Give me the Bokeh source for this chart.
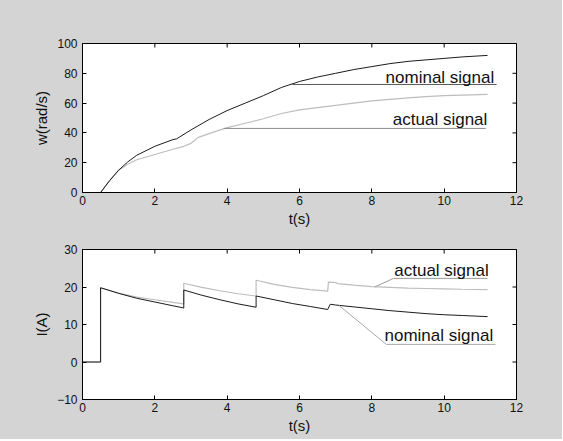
import math
from bokeh.plotting import figure
from bokeh.models import FixedTicker, Range1d
from bokeh.layouts import column
from bokeh.core.properties import value
from bokeh.embed import file_html
from bokeh.resources import INLINE

# ---------------- data ----------------
x_ticks = [0, 2, 4, 6, 8, 10, 12]
w_ticks = [0, 20, 40, 60, 80, 100]
i_ticks = [-10, 0, 10, 20, 30]

# speed w(rad/s)
w_t_nom = [0, 0.5, 0.75, 1.0, 1.25, 1.5, 2.0, 2.5, 2.6, 3.0, 3.5, 4.0, 4.5, 5.0, 5.5,
           6.0, 6.5, 7.0, 7.5, 8.0, 8.5, 9.0, 9.5, 10.0, 10.5, 11.2]
w_nom = [0, 0, 8, 15, 20.5, 25, 31, 35.5, 36, 42, 49, 55, 60, 65, 70.5,
         74.5, 77.5, 80, 82.5, 84.5, 86.5, 88, 89, 90, 91, 92]
w_t_act = [0, 0.5, 0.75, 1.0, 1.25, 1.5, 2.0, 2.5, 2.8, 3.0, 3.2, 3.5, 4.0, 4.5, 5.0,
           5.5, 6.0, 6.5, 7.0, 7.5, 8.0, 8.5, 9.0, 9.5, 10.0, 10.5, 11.2]
w_act = [0, 0, 8, 15, 19, 22, 25.5, 29, 31, 33, 37, 39.5, 43.5, 46.5, 49.5,
         53, 55.5, 57, 58.5, 60, 61.5, 62.5, 63.5, 64.3, 65, 65.4, 65.8]

# current I(A)
i_t_nom = [0, 0.5, 0.5, 1.0, 1.5, 2.0, 2.5, 2.8, 2.8, 3.3, 3.8, 4.3, 4.8, 4.8, 5.3,
           5.8, 6.3, 6.78, 6.85, 7.0, 7.5, 8.0, 8.5, 9.0, 9.5, 10.0, 10.5, 11.2]
i_nom = [0, 0, 19.8, 18.3, 17.0, 16.0, 15.0, 14.4, 19.2, 17.8, 16.6, 15.5, 14.6, 17.6, 16.6,
         15.6, 14.8, 14.0, 15.4, 15.2, 14.7, 14.2, 13.7, 13.3, 12.9, 12.6, 12.4, 12.1]
i_t_act = [0, 0.5, 0.5, 1.0, 1.5, 2.0, 2.5, 2.8, 2.8, 3.3, 3.8, 4.3, 4.8, 4.8, 5.3,
           5.8, 6.3, 6.78, 6.8, 7.0, 7.05, 7.5, 8.0, 8.5, 9.0, 9.5, 10.0, 10.5, 11.2]
i_act = [0, 0, 19.8, 18.4, 17.3, 16.6, 15.9, 15.5, 21.0, 19.9, 19.0, 18.2, 17.6, 21.8, 20.7,
         19.9, 19.3, 18.9, 21.3, 21.2, 20.9, 20.5, 20.1, 19.9, 19.7, 19.6, 19.5, 19.4, 19.3]

# annotations (data coordinates)
w_nom_label = dict(text="nominal signal", x=8.38, y=77.5, line_x=[5.8, 11.45], line_y=[72.5, 72.5])
w_act_label = dict(text="actual signal", x=8.58, y=49.0, line_x=[3.9, 11.15], line_y=[43, 43])
i_act_label = dict(text="actual signal", x=8.62, y=24.3, line_x=[8.08, 8.6, 11.2], line_y=[20.0, 22.3, 22.3])
i_nom_label = dict(text="nominal signal", x=8.35, y=7.0, line_x=[7.09, 8.4, 11.42], line_y=[15.1, 4.7, 4.7])

BG = "#d4d4d4"
FONT = "Liberation Sans"
NOM_COLOR = "#1c1c1c"
ACT_COLOR = "#bdbdbd"


def style_axes(p, yticks, ylabel):
    p.xaxis.ticker = FixedTicker(ticks=x_ticks)
    p.yaxis.ticker = FixedTicker(ticks=yticks)
    for ax in p.xaxis + p.yaxis:
        ax.major_tick_in = 4
        ax.major_tick_out = 0
        ax.minor_tick_line_color = None
        ax.axis_line_color = "black"
        ax.major_tick_line_color = "black"
        ax.major_label_text_font = FONT
        ax.major_label_text_font_size = "12px"
        ax.major_label_text_color = "#111111"
        ax.axis_label_text_font = FONT
        ax.axis_label_text_font_size = "15px"
        ax.axis_label_text_font_style = "normal"
        ax.axis_label_text_color = "#111111"
    p.xaxis.major_label_standoff = 3
    p.yaxis.major_label_standoff = 5
    p.xaxis.axis_label = "t(s)"
    p.yaxis.axis_label = ylabel
    p.xaxis.axis_label_standoff = 2
    p.yaxis.axis_label_standoff = 4
    p.xgrid.grid_line_color = None
    p.ygrid.grid_line_color = None
    # inward tick marks on the top and right edges of the box (clipped to the frame)
    ymax = p.y_range.end
    xmax = p.x_range.end
    p.scatter(x_ticks, [ymax] * len(x_ticks), marker="dash", size=8, angle=math.pi / 2,
              line_color="black", line_width=1)
    p.scatter([xmax] * len(yticks), yticks, marker="dash", size=8, angle=0,
              line_color="black", line_width=1)


def add_label(p, lab, line_color):
    p.line(lab["line_x"], lab["line_y"], line_color=line_color, line_width=1)
    p.text(x=[lab["x"]], y=[lab["y"]], text=[lab["text"]], text_font=value(FONT),
           text_font_size=value("17px"), text_color="#111111",
           text_baseline="alphabetic", text_align="left")


p1 = figure(frame_width=434, frame_height=149, x_range=Range1d(0, 12), y_range=Range1d(0, 100),
            output_backend="svg", toolbar_location=None,
            min_border_left=82, min_border_right=46, min_border_top=43, min_border_bottom=40,
            background_fill_color="white", border_fill_color=BG, outline_line_color="black")
style_axes(p1, w_ticks, "w(rad/s)")
p1.line(w_t_act, w_act, line_color=ACT_COLOR, line_width=1.2)
p1.line(w_t_nom, w_nom, line_color=NOM_COLOR, line_width=1)
add_label(p1, w_nom_label, "#5a5a5a")
add_label(p1, w_act_label, "#8c8c8c")

p2 = figure(frame_width=434, frame_height=150, x_range=Range1d(0, 12), y_range=Range1d(-10, 30),
            output_backend="svg", toolbar_location=None,
            min_border_left=82, min_border_right=46, min_border_top=17, min_border_bottom=40,
            background_fill_color="white", border_fill_color=BG, outline_line_color="black")
style_axes(p2, i_ticks, "I(A)")
p2.line(i_t_act, i_act, line_color=ACT_COLOR, line_width=1.2)
p2.line(i_t_nom, i_nom, line_color=NOM_COLOR, line_width=1)
add_label(p2, i_act_label, "#9a9a9a")
add_label(p2, i_nom_label, "#a8a8a8")

layout = column(p1, p2, spacing=0, styles={"background-color": BG})
open("out.html", "w").write(file_html(layout, INLINE))
